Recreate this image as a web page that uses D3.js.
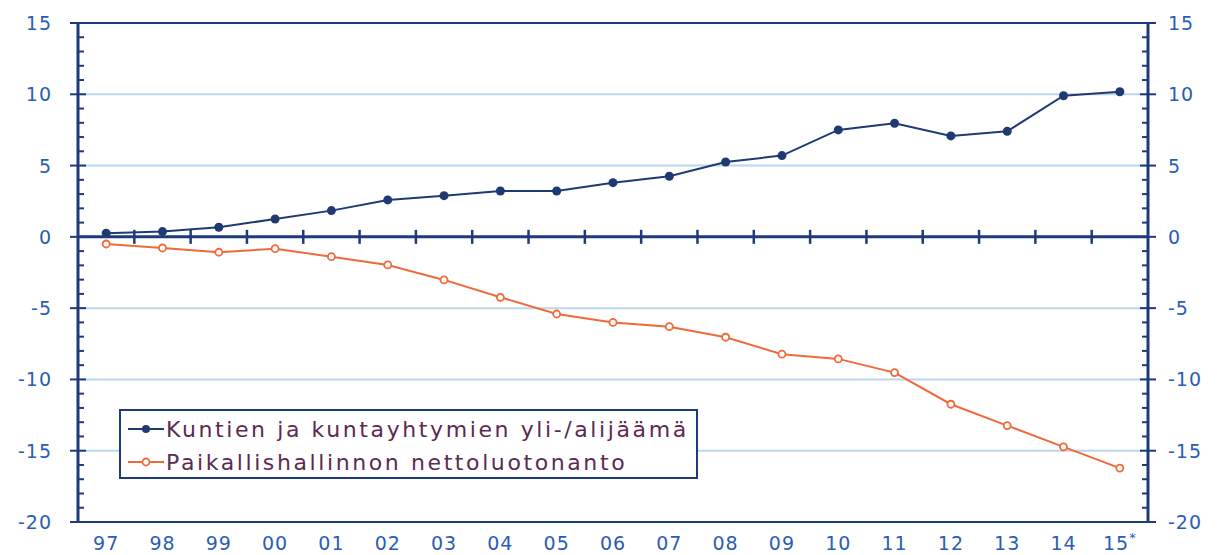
<!DOCTYPE html>
<html>
<head>
<meta charset="utf-8">
<script src="https://cdnjs.cloudflare.com/ajax/libs/d3/7.8.5/d3.min.js"></script>
<style>
  body { margin: 0; background: #fff; }
  svg { display: block; font-family: "DejaVu Sans", Verdana, sans-serif; }
</style>
</head>
<body>
<svg id="chart" width="1217" height="555"></svg>
<script>
// years on the x axis
const years = ["97", "98", "99", "00", "01", "02", "03", "04", "05", "06",
               "07", "08", "09", "10", "11", "12", "13", "14", "15"];
// Kuntien ja kuntayhtymien yli-/alijäämä
const surplus = [0.25, 0.37, 0.67, 1.25, 1.84, 2.59, 2.89, 3.22, 3.22, 3.8,
                 4.25, 5.25, 5.7, 7.5, 7.97, 7.08, 7.4, 9.9, 10.18];
// Paikallishallinnon nettoluotonanto
const lending = [-0.5, -0.78, -1.08, -0.83, -1.39, -1.97, -3.02, -4.24, -5.41, -6.0,
                 -6.3, -7.04, -8.23, -8.56, -9.52, -11.74, -13.24, -14.73, -16.22];
const yTicks = [15, 10, 5, 0, -5, -10, -15, -20];
const seriesNames = ["Kuntien ja kuntayhtymien yli-/alijäämä", "Paikallishallinnon nettoluotonanto"];

const svg = d3.select("#chart");
const margin = { top: 23, right: 69, bottom: 33, left: 78 };
const width = 1217 - margin.left - margin.right;
const height = 555 - margin.top - margin.bottom;

const axisColor = "#1d3b7a";
const labelColor = "#2a5db5";
const blue = "#1f3a73";
const orange = "#f0693a";

const x = d3.scaleBand().domain(years).range([0, width]);
const y = d3.scaleLinear().domain([-20, 15]).range([height, 0]);

const g = svg.append("g").attr("transform", `translate(${margin.left},${margin.top})`);

// gridlines
g.selectAll(".grid")
    .data(yTicks.filter(d => d !== 0 && d !== 15 && d !== -20))
    .enter()
    .append("line")
    .attr("x1", 0).attr("x2", width)
    .attr("y1", d => y(d)).attr("y2", d => y(d))
    .attr("stroke", "#bcd6ec")
    .attr("stroke-width", 2);

// frame top/bottom
g.append("line").attr("x1", 0).attr("x2", width).attr("y1", y(15)).attr("y2", y(15))
    .attr("stroke", axisColor).attr("stroke-width", 2);
g.append("line").attr("x1", 0).attr("x2", width).attr("y1", y(-20)).attr("y2", y(-20))
    .attr("stroke", axisColor).attr("stroke-width", 2);

// y axes with minor ticks
const minor = d3.range(-20, 16, 1).filter(d => d % 5 !== 0);
[0, width].forEach((xp, i) => {
    const dir = i === 0 ? 1 : -1;
    g.append("line").attr("x1", xp).attr("x2", xp).attr("y1", 0).attr("y2", height)
        .attr("stroke", axisColor).attr("stroke-width", 3);
    g.selectAll(null).data(minor).enter().append("line")
        .attr("x1", xp).attr("x2", xp + dir * 6)
        .attr("y1", d => y(d)).attr("y2", d => y(d))
        .attr("stroke", axisColor).attr("stroke-width", 2);
    g.selectAll(null).data(yTicks).enter().append("text")
        .attr("x", i === 0 ? -26 : xp + 20)
        .attr("y", d => y(d) + 7)
        .attr("text-anchor", i === 0 ? "end" : "start")
        .attr("fill", labelColor)
        .style("font-size", "19px")
        .style("letter-spacing", "1px")
        .text(d => d < 0 ? "-" + Math.abs(d) : d);
    g.selectAll(null).data(yTicks).enter().append("line")
        .attr("x1", xp - 8).attr("x2", xp + 8)
        .attr("y1", d => y(d)).attr("y2", d => y(d))
        .attr("stroke", axisColor).attr("stroke-width", 2);
});

// zero axis with category ticks
g.append("line").attr("x1", 0).attr("x2", width).attr("y1", y(0)).attr("y2", y(0))
    .attr("stroke", axisColor).attr("stroke-width", 3);
g.selectAll(null).data(years.slice(1)).enter().append("line")
    .attr("x1", d => x(d)).attr("x2", d => x(d))
    .attr("y1", y(0) - 7).attr("y2", y(0) + 7)
    .attr("stroke", axisColor).attr("stroke-width", 2.5);

// x labels
const xl = g.selectAll(null).data(years).enter().append("text")
    .attr("x", d => x(d) + x.bandwidth() / 2)
    .attr("y", height + 28)
    .attr("text-anchor", "middle")
    .attr("fill", labelColor)
    .style("font-size", "19px")
    .style("letter-spacing", "1px")
    .text(d => d);
xl.filter(d => d === "15").append("tspan")
    .attr("dy", -8).style("font-size", "13px").text("*");

const cx = (d, i) => x(years[i]) + x.bandwidth() / 2;
const line = d3.line().x((d, i) => cx(d, i)).y(d => y(d));

// orange series
g.append("path").datum(lending).attr("d", line)
    .attr("fill", "none").attr("stroke", orange).attr("stroke-width", 2);
g.selectAll(".o").data(lending).enter().append("circle")
    .attr("cx", cx).attr("cy", d => y(d)).attr("r", 3.5)
    .attr("fill", "#fff").attr("stroke", orange).attr("stroke-width", 1.8);

// blue series
g.append("path").datum(surplus).attr("d", line)
    .attr("fill", "none").attr("stroke", blue).attr("stroke-width", 2);
g.selectAll(".b").data(surplus).enter().append("circle")
    .attr("cx", cx).attr("cy", d => y(d)).attr("r", 4.5)
    .attr("fill", blue);

// legend
const lg = svg.append("g").attr("transform", "translate(120,410)");
lg.append("rect").attr("width", 577).attr("height", 68)
    .attr("fill", "#fff").attr("stroke", axisColor).attr("stroke-width", 2);
lg.append("line").attr("x1", 8).attr("x2", 44).attr("y1", 19).attr("y2", 19)
    .attr("stroke", blue).attr("stroke-width", 2);
lg.append("circle").attr("cx", 26).attr("cy", 19).attr("r", 4).attr("fill", blue);
lg.append("line").attr("x1", 8).attr("x2", 44).attr("y1", 52).attr("y2", 52)
    .attr("stroke", orange).attr("stroke-width", 2);
lg.append("circle").attr("cx", 26).attr("cy", 52).attr("r", 3.5)
    .attr("fill", "#fff").attr("stroke", orange).attr("stroke-width", 1.8);
lg.selectAll(null).data(seriesNames).enter().append("text")
    .attr("x", 46).attr("y", (d, i) => 27 + i * 33)
    .attr("fill", "#5b2a52")
    .style("font-size", "22px")
    .style("letter-spacing", "2.6px")
    .text(d => d);
</script>
</body>
</html>
